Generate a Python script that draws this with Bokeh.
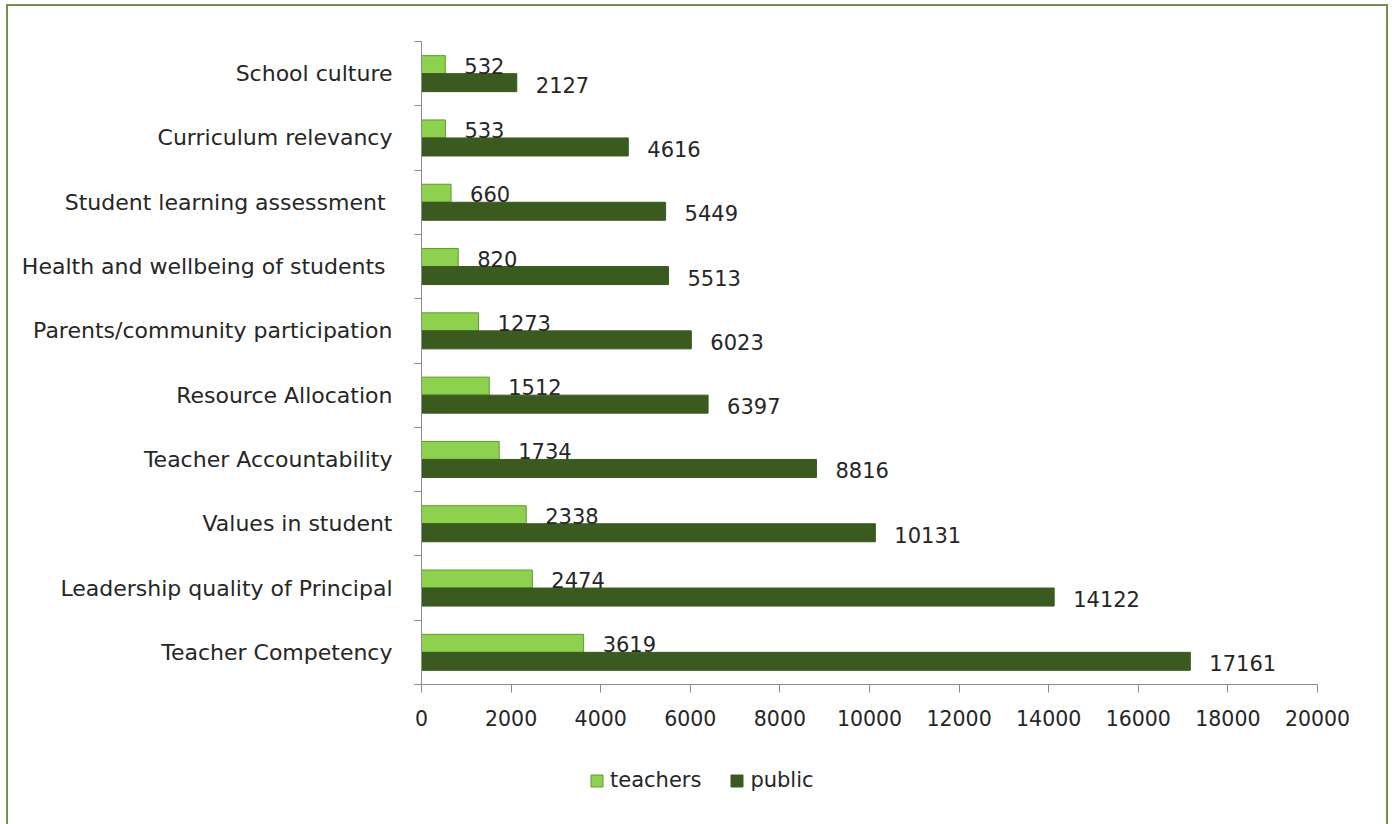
from bokeh.plotting import figure
from bokeh.layouts import column
from bokeh.models import (ColumnDataSource, FixedTicker, LinearAxis, Range1d,
                          Legend, LegendItem, LabelSet, InlineStyleSheet)
from bokeh.core.properties import value
from bokeh.embed import file_html
from bokeh.resources import INLINE

# ---- data (bottom to top) ----
categories = [
    "Teacher Competency",
    "Leadership quality of Principal",
    "Values in student",
    "Teacher Accountability",
    "Resource Allocation",
    "Parents/community participation",
    "Health and wellbeing of  students",
    "Student  learning assessment",
    "Curriculum relevancy",
    "School culture",
]
teachers = [3619, 2474, 2338, 1734, 1512, 1273, 820, 660, 533, 532]
public = [17161, 14122, 10131, 8816, 6397, 6023, 5513, 5449, 4616, 2127]
x_ticks = [0, 2000, 4000, 6000, 8000, 10000, 12000, 14000, 16000, 18000, 20000]
series_names = ["teachers", "public"]

FONT = "DejaVu Sans"
TXT = "#262626"
LIGHT = "#8ED14F"
LIGHT_EDGE = "#5E9A2E"
DARK = "#3A5A1F"
AXIS = "#8C8C8C"

n = len(categories)
centers = [i + 0.5 for i in range(n)]
src = ColumnDataSource(dict(
    yc=centers,
    yt=[c + 0.14 for c in centers],
    yp=[c - 0.14 for c in centers],
    teachers=teachers,
    public=public,
    tl=[str(v) for v in teachers],
    pl=[str(v) for v in public],
))

frame_css = InlineStyleSheet(css="""
:host { position: relative; }
:host::after {
  content: ''; position: absolute; left: 6px; top: 4px; right: 4px; bottom: 0px;
  border: 2px solid #74904C; border-bottom: none; pointer-events: none;
}
""")

p = figure(width=1392, height=740, frame_width=896, frame_height=643,
           min_border_left=421, min_border_right=75, min_border_top=41,
           min_border_bottom=56, x_range=Range1d(0, 20000),
           y_range=Range1d(0, n), output_backend="svg",
           toolbar_location=None, x_axis_location=None, y_axis_location=None)
p.xgrid.visible = False
p.ygrid.visible = False
p.outline_line_color = None
p.background_fill_color = "white"
p.border_fill_color = "white"

rt = p.hbar(y="yt", left=0, right="teachers", height=0.28, source=src,
            fill_color=LIGHT, line_color=LIGHT_EDGE, line_width=1)
rp = p.hbar(y="yp", left=0, right="public", height=0.28, source=src,
            fill_color=DARK, line_color=DARK, line_width=1)

# data labels
p.add_layout(LabelSet(x="teachers", y="yt", text="tl", source=src,
                      x_offset=19, y_offset=-1, text_baseline="middle",
                      text_font=value(FONT), text_font_size="21px",
                      text_color=TXT))
p.add_layout(LabelSet(x="public", y="yp", text="pl", source=src,
                      x_offset=19, y_offset=-2, text_baseline="middle",
                      text_font=value(FONT), text_font_size="21px",
                      text_color=TXT))

# y axis: category labels at centers, ticks at boundaries (minor ticks)
yax = LinearAxis(ticker=FixedTicker(ticks=centers,
                                    minor_ticks=list(range(n + 1))))
yax.major_label_overrides = {c: lab for c, lab in zip(centers, categories)}
yax.major_tick_out = 0
yax.major_tick_in = 0
yax.minor_tick_out = 7
yax.minor_tick_in = 0
yax.minor_tick_line_color = AXIS
yax.axis_line_color = AXIS
yax.major_label_standoff = 22
yax.major_label_text_font = FONT
yax.major_label_text_font_size = "22px"
yax.major_label_text_color = TXT
p.add_layout(yax, "left")

xax = LinearAxis(ticker=FixedTicker(ticks=x_ticks, minor_ticks=[]))
xax.major_tick_out = 8
xax.major_tick_in = 0
xax.major_tick_line_color = AXIS
xax.axis_line_color = AXIS
xax.major_label_standoff = 17
xax.major_label_text_font = FONT
xax.major_label_text_font_size = "20.5px"
xax.major_label_text_color = TXT
p.add_layout(xax, "below")

# ---- legend strip below the chart (frame aligned with the chart frame) ----
p2 = figure(width=1392, height=84, frame_width=896,
            min_border_left=421, min_border_right=75, min_border_top=0,
            min_border_bottom=0, x_range=Range1d(0, 1), y_range=Range1d(0, 1),
            output_backend="svg", toolbar_location=None,
            x_axis_location=None, y_axis_location=None)
p2.xgrid.visible = False
p2.ygrid.visible = False
p2.outline_line_color = None
p2.background_fill_color = "white"
p2.border_fill_color = "white"
# zero-size swatch sources placed outside the visible range
swatch = ColumnDataSource(dict(y=[-5], r=[0]))
lt = p2.hbar(y="y", left=0, right="r", height=0, source=swatch,
             fill_color=LIGHT, line_color=LIGHT_EDGE, line_width=1)
lp = p2.hbar(y="y", left=0, right="r", height=0, source=swatch,
             fill_color=DARK, line_color=DARK, line_width=1)
legend = Legend(items=[LegendItem(label=series_names[0], renderers=[lt]),
                       LegendItem(label=series_names[1], renderers=[lp])],
                orientation="horizontal", location=(168, 32),
                glyph_width=15, glyph_height=15, label_standoff=6,
                spacing=28, padding=0, margin=0,
                border_line_color=None, background_fill_alpha=0,
                label_text_font=FONT, label_text_font_size="21px",
                label_text_color=TXT)
p2.add_layout(legend, "center")

layout = column(p, p2, spacing=0, stylesheets=[frame_css])
open("out.html", "w").write(file_html(layout, INLINE))
